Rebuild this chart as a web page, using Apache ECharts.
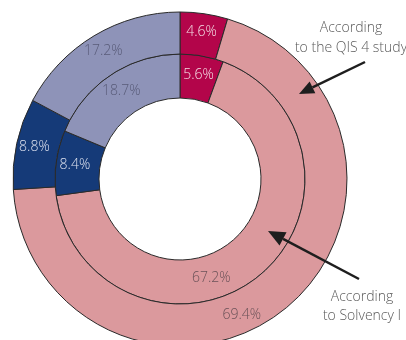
<!DOCTYPE html>
<html><head><meta charset="utf-8">
<script src="https://cdn.jsdelivr.net/npm/echarts@6/dist/echarts.min.js"></script>
<style>html,body{margin:0;padding:0;background:#fff}#c{width:406px;height:340px}</style>
</head><body><div id="c"></div>
<script>
const categories = ['Red', 'Pink', 'Dark blue', 'Light blue'];
const colors = ['#B3054A', '#DB999D', '#153A78', '#8E93B8'];
const labelColors = ['#F3DCE3', '#6B5258', '#DCE0EE', '#585B78'];
const qis4 = [4.6, 69.4, 8.8, 17.2];       // outer ring
const solvency1 = [5.6, 67.2, 8.4, 18.7];  // inner ring
const labels1 = ['According', 'to the QIS 4 study'];
const labels2 = ['According', 'to Solvency I'];

const chart = echarts.init(document.getElementById('c'));
function mk(vals){
  return vals.map((v,i)=>({name:categories[i], value:v,
    itemStyle:{color:colors[i]},
    label:{color:labelColors[i]}}));
}
const font = '"Open Sans", "Noto Sans", sans-serif';
function pie(vals, radius, shift){
  return {
    type:'pie', center:[180,179], radius:radius, startAngle:90, clockwise:true,
    silent:true, animation:false, z:1,
    itemStyle:{borderColor:'#2a2a2a', borderWidth:1},
    label:{show:true, position:'inside', formatter: p => p.value.toFixed(1)+'%',
      fontFamily:font, fontSize:14, fontWeight:300},
    labelLine:{show:false},
    labelLayout: function(p){ return p.dataIndex===1 ? {dx:shift[0], dy:shift[1]} : {}; },
    data: mk(vals)
  };
}
function arrow(x1,y1,x2,y2,hl,hw){
  const a=Math.atan2(y2-y1,x2-x1);
  const bx=x2-hl*Math.cos(a), by=y2-hl*Math.sin(a);
  const px=-Math.sin(a)*hw/2, py=Math.cos(a)*hw/2;
  return [
    {type:'line', z:100, shape:{x1:x1,y1:y1,x2:bx,y2:by}, style:{stroke:'#1e1e1e', lineWidth:2.5}},
    {type:'polygon', z:100, shape:{points:[[x2,y2],[bx+px,by+py],[bx-px,by-py]]}, style:{fill:'#1e1e1e'}}
  ];
}
const textStyle = {fill:'#5a5a5a', font:'300 14px '+font, textAlign:'center', textVerticalAlign:'middle'};
chart.setOption({
  backgroundColor:'#fff',
  series:[
    pie(solvency1, [81,125], [-35,16]),
    pie(qis4, [125,167], [-31,19])
  ],
  graphic:[
    {type:'text', z:100, x:351, y:28, style:Object.assign({text:labels1[0]}, textStyle)},
    {type:'text', z:100, x:351, y:48, style:Object.assign({text:labels1[1]}, textStyle)},
    {type:'text', z:100, x:362, y:297, style:Object.assign({text:labels2[0]}, textStyle)},
    {type:'text', z:100, x:362, y:316, style:Object.assign({text:labels2[1]}, textStyle)},
    ...arrow(365,62,299,94,15,13),
    ...arrow(359,279,268,231,17,15)
  ]
});
</script></body></html>
